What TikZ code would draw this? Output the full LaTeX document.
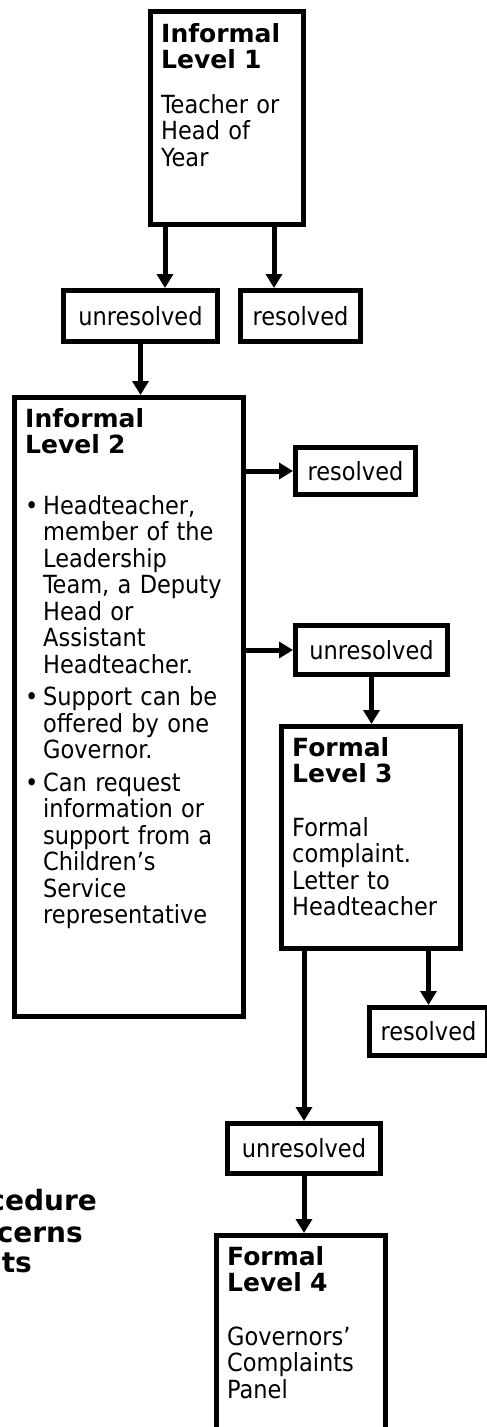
\documentclass[tikz,border=0pt]{standalone}
\usepackage{fontspec}
\setmainfont{DejaVu Sans Condensed}[BoldFont={DejaVu Sans Bold}]
\usetikzlibrary{arrows.meta}

\newcommand\bulletitem[1]{\par\vspace{6pt}\hangindent=18pt\hangafter=1\noindent\makebox[18pt][l]{\textbullet}#1\par}

\tikzset{
    stagebox/.style={draw=black,line width=5pt,inner sep=0pt},
    boxtext/.style={anchor=base west,inner sep=0pt,text width=#1,align=left,font=\fontsize{25}{26.5}\selectfont},
    outcome/.style={stagebox,font=\fontsize{25}{26.5}\selectfont},
    headtext/.style={anchor=base east,inner sep=0pt,font=\fontsize{28}{31}\selectfont\bfseries},
    flow/.style={-{Triangle[length=14pt,width=16pt]},black,line width=5pt},
}

\begin{document}
\begin{tikzpicture}[x=1pt,y=-1pt]
    \useasboundingbox (0,0) rectangle (487,1427);

    % the four levels
    \node[stagebox,minimum width=153,minimum height=213] at (227,118) (lvl1){};
    \node[stagebox,minimum width=229,minimum height=619] at (129,707) (lvl2){};
    \node[stagebox,minimum width=179,minimum height=222] at (371,837.5) (lvl3){};
    \node[stagebox,minimum width=169,minimum height=212] at (301,1341.5) (lvl4){};

    \node[boxtext=140] at (161,42) (lvl1txt){\textbf{Informal}\\\textbf{Level 1}\\[18pt]Teacher or\\Head of\\Year};
    \node[boxtext=215] at (25,427) (lvl2txt){\textbf{Informal}\\\textbf{Level 2}\par\vspace{28pt}
        \bulletitem{Headteacher,\newline member of the\newline Leadership\newline Team, a Deputy\newline Head or\newline Assistant\newline Headteacher.}
        \bulletitem{Support can be\newline offered by one\newline Governor.}
        \bulletitem{Can request\newline information or\newline support from a\newline Children’s\newline Service\newline representative}};
    \node[boxtext=165] at (292,756) (lvl3txt){\textbf{Formal}\\\textbf{Level 3}\\[27pt]Formal\\complaint.\\Letter to\\Headteacher};
    \node[boxtext=155] at (227,1265) (lvl4txt){\textbf{Formal}\\\textbf{Level 4}\\[27pt]Governors’\\Complaints\\Panel};

    % outcomes
    \node[outcome,minimum width=154,minimum height=51] at (140.5,316) (unres1){unresolved};
    \node[outcome,minimum width=120,minimum height=51] at (300.5,316) (res1){resolved};
    \node[outcome,minimum width=120,minimum height=47] at (355.5,471) (res2){resolved};
    \node[outcome,minimum width=152,minimum height=49] at (371.5,650) (unres2){unresolved};
    \node[outcome,minimum width=118,minimum height=48] at (428.5,1031.5) (res3){resolved};
    \node[outcome,minimum width=153,minimum height=50] at (304,1148.5) (unres3){unresolved};

    % heading, cut by the page edge
    \node[headtext] at (97,1210) (head1){cedure};
    \node[headtext] at (83,1242) (head2){cerns};
    \node[headtext] at (32,1272) (head3){nts};

    \draw[flow] ([xshift=17pt]lvl1.south west) -- ([xshift=104pt]unres1.north west); %1-unresolved
    \draw[flow] ([xshift=126pt]lvl1.south west) -- ([xshift=36pt]res1.north west); %1-resolved
    \draw[flow] (unres1.south) -- (unres1.south |- lvl2.north); %unresolved-2
    \draw[flow] (res2.west -| lvl2.east) -- (res2.west); %2-resolved
    \draw[flow] (unres2.west -| lvl2.east) -- (unres2.west); %2-unresolved
    \draw[flow] (unres2.south) -- (unres2.south |- lvl3.north); %unresolved-3
    \draw[flow] (res3.north |- lvl3.south) -- (res3.north); %3-resolved
    \draw[flow] (unres3.north |- lvl3.south) -- (unres3.north); %3-unresolved
    \draw[flow] (unres3.south) -- (unres3.south |- lvl4.north); %unresolved-4
\end{tikzpicture}
\end{document}
